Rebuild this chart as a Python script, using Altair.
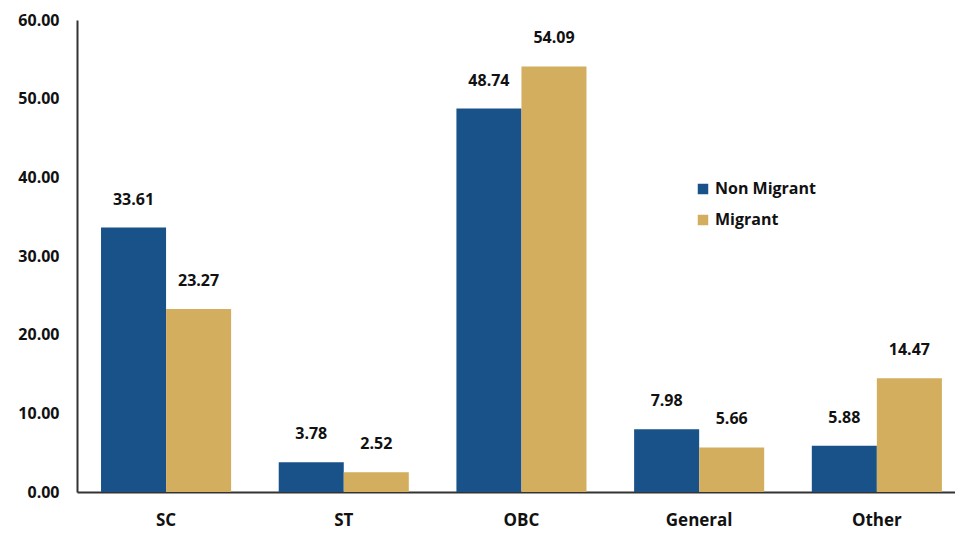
import altair as alt
import pandas as pd

categories = ["SC", "ST", "OBC", "General", "Other"]
series = ["Non Migrant", "Migrant"]
non_migrant = [33.61, 3.78, 48.74, 7.98, 5.88]
migrant = [23.27, 2.52, 54.09, 5.66, 14.47]
y_ticks = [0, 10, 20, 30, 40, 50, 60]

rows = []
for c, a, b in zip(categories, non_migrant, migrant):
    rows.append({"cat": c, "series": "Non Migrant", "value": a})
    rows.append({"cat": c, "series": "Migrant", "value": b})
df = pd.DataFrame(rows)

FONT = "Open Sans"
colors = ["#185288", "#D2AE5E"]

x = alt.X("cat:N", sort=categories, title=None,
          scale=alt.Scale(paddingInner=0.268, paddingOuter=0.1045, align=0.647),
          axis=alt.Axis(labelAngle=0, labelFont=FONT, labelFontSize=17, labelFontWeight="bold",
                        labelColor="#111", labelPadding=20, ticks=False, domainColor="#333",
                        domainWidth=2))
y = alt.Y("value:Q", title=None, scale=alt.Scale(domain=[0, 60], nice=False),
          axis=alt.Axis(values=y_ticks, format=".2f", labelFont=FONT, labelFontSize=16,
                        labelFontWeight="bold", labelColor="#111", labelPadding=18, ticks=False,
                        grid=False, domainColor="#333", domainWidth=2))
xo = alt.XOffset("series:N", sort=series)
color = alt.Color("series:N", sort=series, scale=alt.Scale(domain=series, range=colors),
                  legend=alt.Legend(title=None, orient="none", legendX=618, legendY=161,
                                    symbolType="square", symbolSize=110, symbolStrokeWidth=0,
                                    labelFont=FONT, labelFontSize=16, labelFontWeight="bold",
                                    labelColor="#111", rowPadding=15, symbolOpacity=1))

bars = alt.Chart(df).mark_bar().encode(x=x, xOffset=xo, y=y, color=color)
text = alt.Chart(df).mark_text(dy=-20, baseline="bottom", font=FONT, fontSize=16,
                               fontWeight="bold", color="#111").encode(
    x=x, xOffset=xo, y=y, text=alt.Text("value:Q", format=".2f"))

chart = (bars + text).properties(
    width=878, height=472,
    autosize=alt.AutoSizeParams(type="none"),
    padding={"left": 69, "top": 12, "right": 0, "bottom": 39},
).configure_view(stroke=None)

chart.save("out.html", embed_options={"renderer": "svg", "actions": False})
